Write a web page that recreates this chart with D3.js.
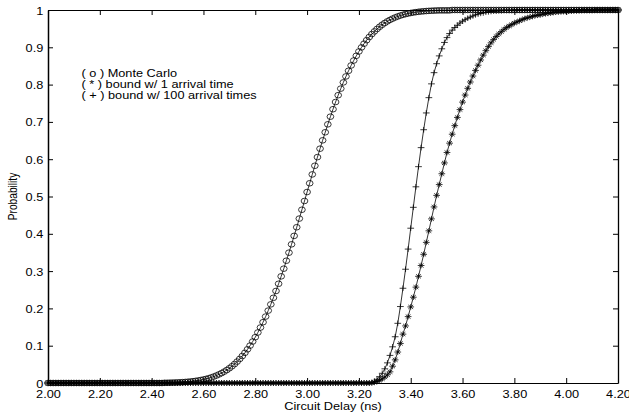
<!DOCTYPE html>
<html lang="en">
<head>
    <meta charset="UTF-8">
    <title>circuit delay cdf</title>
    <script src="https://d3js.org/d3.v7.min.js"></script>
    <style type="text/css">
    body{
        margin:0;
        background:#fff;
    }
    </style>
</head>
<body>
    <div id="chart"></div>
    <script>
        // delay grid (ns), one point every 0.01 ns
        var delay=[
            2.00,2.01,2.02,2.03,2.04,2.05,2.06,2.07,2.08,2.09,
            2.10,2.11,2.12,2.13,2.14,2.15,2.16,2.17,2.18,2.19,
            2.20,2.21,2.22,2.23,2.24,2.25,2.26,2.27,2.28,2.29,
            2.30,2.31,2.32,2.33,2.34,2.35,2.36,2.37,2.38,2.39,
            2.40,2.41,2.42,2.43,2.44,2.45,2.46,2.47,2.48,2.49,
            2.50,2.51,2.52,2.53,2.54,2.55,2.56,2.57,2.58,2.59,
            2.60,2.61,2.62,2.63,2.64,2.65,2.66,2.67,2.68,2.69,
            2.70,2.71,2.72,2.73,2.74,2.75,2.76,2.77,2.78,2.79,
            2.80,2.81,2.82,2.83,2.84,2.85,2.86,2.87,2.88,2.89,
            2.90,2.91,2.92,2.93,2.94,2.95,2.96,2.97,2.98,2.99,
            3.00,3.01,3.02,3.03,3.04,3.05,3.06,3.07,3.08,3.09,
            3.10,3.11,3.12,3.13,3.14,3.15,3.16,3.17,3.18,3.19,
            3.20,3.21,3.22,3.23,3.24,3.25,3.26,3.27,3.28,3.29,
            3.30,3.31,3.32,3.33,3.34,3.35,3.36,3.37,3.38,3.39,
            3.40,3.41,3.42,3.43,3.44,3.45,3.46,3.47,3.48,3.49,
            3.50,3.51,3.52,3.53,3.54,3.55,3.56,3.57,3.58,3.59,
            3.60,3.61,3.62,3.63,3.64,3.65,3.66,3.67,3.68,3.69,
            3.70,3.71,3.72,3.73,3.74,3.75,3.76,3.77,3.78,3.79,
            3.80,3.81,3.82,3.83,3.84,3.85,3.86,3.87,3.88,3.89,
            3.90,3.91,3.92,3.93,3.94,3.95,3.96,3.97,3.98,3.99,
            4.00,4.01,4.02,4.03,4.04,4.05,4.06,4.07,4.08,4.09,
            4.10,4.11,4.12,4.13,4.14,4.15,4.16,4.17,4.18,4.19,
            4.20];

        // ( o ) Monte Carlo
        var monteCarlo=[
            0,0,0,0,0,0,0,0,0,0,
            0,0,0,0,0,0,0,0,0,0,
            0,0,0,0,0,0,0,0,0,0,
            0,0,0,0,0,0,0,0,0,0,
            0,0,0,0,0,0.0006,0.0007,0.0009,0.0011,0.0013,
            0.0016,0.0019,0.0023,0.0028,0.0034,0.0040,0.0048,0.0057,0.0068,0.0080,
            0.0094,0.0110,0.0128,0.0149,0.0173,0.0200,0.0231,0.0265,0.0304,0.0347,
            0.0395,0.0449,0.0508,0.0574,0.0645,0.0724,0.0809,0.0903,0.1003,0.1112,
            0.1228,0.1354,0.1487,0.1630,0.1781,0.1941,0.2108,0.2284,0.2467,0.2660,
            0.2860,0.3065,0.3278,0.3494,0.3718,0.3944,0.4176,0.4408,0.4645,0.4880,
            0.5120,0.5355,0.5592,0.5824,0.6056,0.6282,0.6506,0.6722,0.6935,0.7140,
            0.7340,0.7533,0.7716,0.7892,0.8059,0.8219,0.8370,0.8513,0.8646,0.8772,
            0.8888,0.8997,0.9097,0.9191,0.9276,0.9355,0.9426,0.9492,0.9551,0.9605,
            0.9653,0.9696,0.9735,0.9769,0.9800,0.9827,0.9851,0.9872,0.9890,0.9906,
            0.9920,0.9932,0.9943,0.9952,0.9960,0.9966,0.9972,0.9977,0.9981,0.9984,
            0.9987,0.999,0.999,0.999,0.999,0.999,1,1,1,1,
            1,1,1,1,1,1,1,1,1,1,
            1,1,1,1,1,1,1,1,1,1,
            1,1,1,1,1,1,1,1,1,1,
            1,1,1,1,1,1,1,1,1,1,
            1,1,1,1,1,1,1,1,1,1,
            1,1,1,1,1,1,1,1,1,1,
            1];

        // ( * ) bound w/ 1 arrival time
        var boundOne=[
            0,0,0,0,0,0,0,0,0,0,
            0,0,0,0,0,0,0,0,0,0,
            0,0,0,0,0,0,0,0,0,0,
            0,0,0,0,0,0,0,0,0,0,
            0,0,0,0,0,0,0,0,0,0,
            0,0,0,0,0,0,0,0,0,0,
            0,0,0,0,0,0,0,0,0,0,
            0,0,0,0,0,0,0,0,0,0,
            0,0,0,0,0,0,0,0,0,0,
            0,0,0,0,0,0,0,0,0,0,
            0,0,0,0,0,0,0,0,0,0,
            0,0,0,0,0,0,0,0,0,0,
            0,0,0,0,0,0,0.002,0.004,0.007,0.011,
            0.016,0.022,0.030,0.045,0.062,0.083,0.106,0.131,0.153,0.178,
            0.204,0.230,0.257,0.286,0.315,0.345,0.377,0.408,0.440,0.472,
            0.503,0.532,0.561,0.590,0.618,0.643,0.667,0.690,0.712,0.733,
            0.753,0.772,0.790,0.807,0.823,0.838,0.852,0.866,0.879,0.891,
            0.902,0.912,0.921,0.929,0.936,0.942,0.948,0.953,0.957,0.961,
            0.965,0.968,0.971,0.974,0.977,0.979,0.981,0.983,0.985,0.986,
            0.987,0.989,0.990,0.991,0.992,0.993,0.994,0.995,0.995,0.996,
            0.996,0.997,0.997,0.998,0.998,0.998,0.999,0.999,0.999,0.999,
            0.999,1,1,1,1,1,1,1,1,1,
            1];

        // ( + ) bound w/ 100 arrival times
        var boundHundred=[
            0,0,0,0,0,0,0,0,0,0,
            0,0,0,0,0,0,0,0,0,0,
            0,0,0,0,0,0,0,0,0,0,
            0,0,0,0,0,0,0,0,0,0,
            0,0,0,0,0,0,0,0,0,0,
            0,0,0,0,0,0,0,0,0,0,
            0,0,0,0,0,0,0,0,0,0,
            0,0,0,0,0,0,0,0,0,0,
            0,0,0,0,0,0,0,0,0,0,
            0,0,0,0,0,0,0,0,0,0,
            0,0,0,0,0,0,0,0,0,0,
            0,0,0,0,0,0,0,0,0,0,
            0,0,0,0,0,0.002,0.005,0.010,0.017,0.026,
            0.038,0.054,0.074,0.097,0.124,0.160,0.205,0.254,0.305,0.359,
            0.415,0.471,0.526,0.580,0.631,0.679,0.724,0.765,0.802,0.832,
            0.856,0.877,0.896,0.913,0.926,0.937,0.946,0.953,0.959,0.965,
            0.970,0.974,0.978,0.981,0.984,0.987,0.989,0.991,0.992,0.994,
            0.995,0.996,0.997,0.997,0.998,0.998,0.999,0.999,0.999,0.999,
            1,1,1,1,1,1,1,1,1,1,
            1,1,1,1,1,1,1,1,1,1,
            1,1,1,1,1,1,1,1,1,1,
            1,1,1,1,1,1,1,1,1,1,
            1];

        var xTicks=[2.0,2.2,2.4,2.6,2.8,3.0,3.2,3.4,3.6,3.8,4.0,4.2];
        var xTickLabels=["2.00","2.20","2.40","2.60","2.80","3.00","3.20","3.40","3.60","3.80","4.00","4.20"];
        var yTicks=[0,0.1,0.2,0.3,0.4,0.5,0.6,0.7,0.8,0.9,1];
        var yTickLabels=["0","0.1","0.2","0.3","0.4","0.5","0.6","0.7","0.8","0.9","1"];
        var legendLines=["( o ) Monte Carlo","( * ) bound w/ 1 arrival time","( + ) bound w/ 100 arrival times"];

        var width=629,height=417,
            margin={left:48,top:10,right:11,bottom:34};
        var fontSize=10.2, stretch=1.25; // text in the picture is widened
        var font="'Liberation Sans', Arial, Helvetica, sans-serif";

        var svg=d3.select('#chart')
            .append('svg')
            .attr('width',width)
            .attr('height',height);

        var x=d3.scaleLinear()
            .domain([2,4.2])
            .range([margin.left,width-margin.right]);
        var y=d3.scaleLinear()
            .domain([0,1])
            .range([height-margin.bottom,margin.top]);

        //坐标轴 (ticks point inward like matlab)
        var gx=svg.append('g')
            .attr('transform','translate(0,'+y(0)+')')
            .call(d3.axisBottom(x).tickValues(xTicks)
                .tickFormat(function(d,i){return xTickLabels[i];})
                .tickSizeInner(-5).tickSizeOuter(0).tickPadding(8));
        var gy=svg.append('g')
            .attr('transform','translate('+x(2)+',0)')
            .call(d3.axisLeft(y).tickValues(yTicks)
                .tickFormat(function(d,i){return yTickLabels[i];})
                .tickSizeInner(-5).tickSizeOuter(0).tickPadding(4));
        var gt=svg.append('g')
            .attr('transform','translate(0,'+y(1)+')')
            .call(d3.axisTop(x).tickValues(xTicks).tickFormat("")
                .tickSizeInner(-5).tickSizeOuter(0));
        var gr=svg.append('g')
            .attr('transform','translate('+x(4.2)+',0)')
            .call(d3.axisRight(y).tickValues(yTicks).tickFormat("")
                .tickSizeInner(-5).tickSizeOuter(0));

        svg.selectAll('.domain').attr('stroke','#000').attr('stroke-width',1);
        gy.select('.domain').attr('stroke-width',1.5);
        gr.select('.domain').attr('stroke-width',1.3);
        svg.selectAll('.tick line').attr('stroke','#000').attr('stroke-width',1);

        gx.selectAll('.tick text')
            .attr('font-family',font)
            .attr('font-size',fontSize)
            .attr('fill','#000')
            .attr('transform','scale('+stretch+',1)');
        gy.selectAll('.tick text')
            .attr('font-family',font)
            .attr('font-size',fontSize)
            .attr('fill','#000')
            .attr('x',-3.8)
            .attr('dy','0.4em')
            .attr('transform','scale('+stretch+',1)');

        //坐标轴标题
        svg.append('text')
            .attr('transform','translate('+((x(2)+x(4.2))/2)+',409.5) scale('+stretch+',1)')
            .attr('text-anchor','middle')
            .attr('font-family',font)
            .attr('font-size',fontSize)
            .text('Circuit Delay (ns)');
        svg.append('text')
            .attr('transform','translate(16.5,'+((y(0)+y(1))/2)+') scale('+stretch+',1) rotate(-90)')
            .attr('text-anchor','middle')
            .attr('font-family',font)
            .attr('font-size',fontSize)
            .text('Probability');

        //图例文字
        svg.selectAll('.legend')
            .data(legendLines)
            .enter()
            .append('text')
            .attr('class','legend')
            .attr('transform',function(d,i){return 'translate(81.5,'+(76.5+i*11.3)+') scale('+stretch+',1)';})
            .attr('font-family',font)
            .attr('font-size',fontSize)
            .text(function(d){return d;});

        //曲线 + 标记
        var r=2.8;
        var markers={
            circle:'M'+r+',0A'+r+','+r+' 0 1 1 '+(-r)+',0A'+r+','+r+' 0 1 1 '+r+',0',
            star:'M'+(-r)+',0H'+r+'M0,'+(-r)+'V'+r+'M-2,-2L2,2M-2,2L2,-2',
            plus:'M'+(-r)+',0H'+r+'M0,'+(-r)+'V'+r
        };
        var series=[
            {values:monteCarlo,marker:'circle'},
            {values:boundOne,marker:'star'},
            {values:boundHundred,marker:'plus'}
        ];

        var line=d3.line()
            .x(function(d,i){return x(delay[i]);})
            .y(function(d){return y(d);});

        series.forEach(function(s){
            svg.append('path')
                .attr('d',line(s.values))
                .attr('fill','none')
                .attr('stroke','#000')
                .attr('stroke-width',0.8);
            svg.append('g')
                .selectAll('path')
                .data(s.values)
                .enter()
                .append('path')
                .attr('d',markers[s.marker])
                .attr('transform',function(d,i){
                    return 'translate('+x(delay[i])+','+y(d)+') scale(1.2,1)';
                })
                .attr('fill','none')
                .attr('stroke','#000')
                .attr('stroke-width',0.7);
        });
    </script>
</body>
</html>
